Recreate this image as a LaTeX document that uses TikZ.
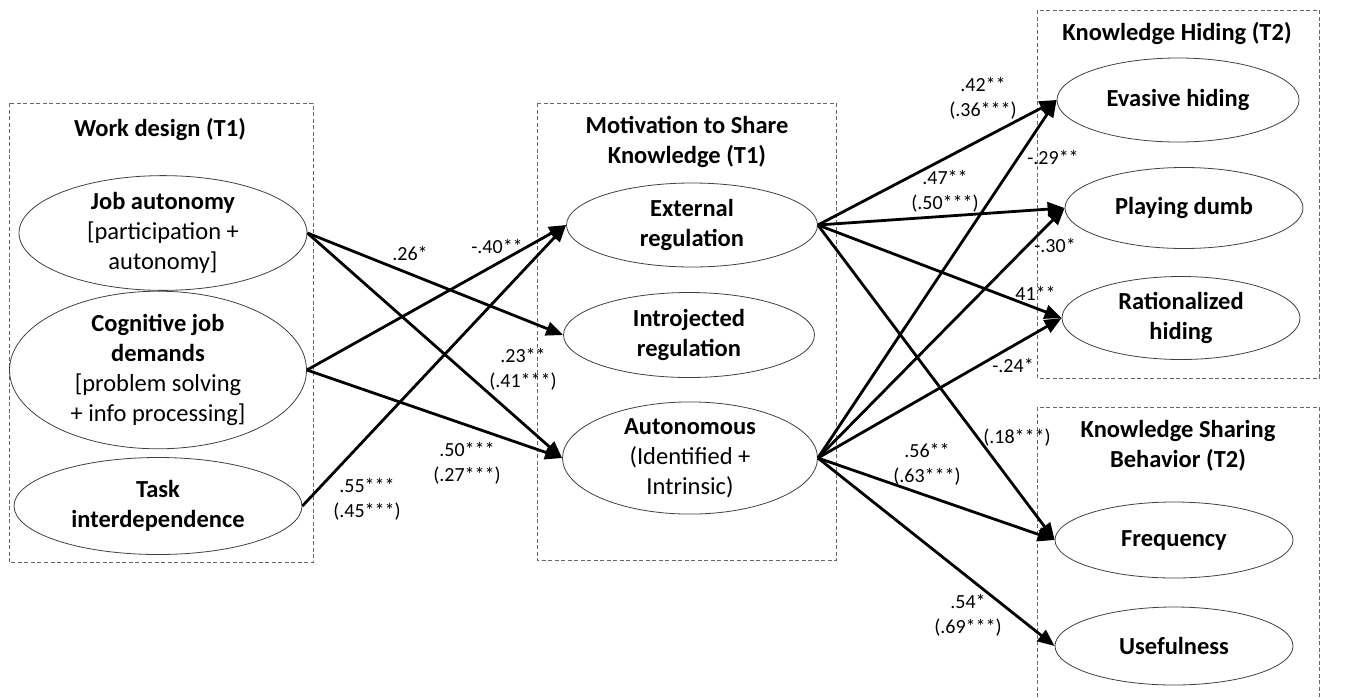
\documentclass[tikz,border=0pt]{standalone}
\usepackage{fontspec}
\setmainfont{Carlito}
\usetikzlibrary{shapes.geometric,arrows.meta}
\begin{document}
\begin{tikzpicture}[x=1pt,y=-1pt,
  grp/.style={draw=black!60, line width=0.9pt, dash pattern=on 4pt off 2.5pt},
  latent/.style={ellipse, draw=black!75, line width=0.8pt, inner sep=0pt, align=center, font=\fontsize{24.5}{30}\selectfont},
  ttl/.style={align=center, font=\fontsize{24.5}{30}\selectfont\bfseries, inner sep=0pt},
  coef/.style={align=center, font=\fontsize{20}{25}\selectfont, inner sep=0pt},
  pth/.style={line width=2.8pt, -{Triangle[length=17pt,width=14pt]}},
]
\useasboundingbox (0,0) rectangle (1348,697);

% group boxes
\draw[grp] (9,103) rectangle (313,562);
\draw[grp] (537,103) rectangle (836,560);
\draw[grp] (1037,10) rectangle (1319,378);
\draw[grp] (1037,407) rectangle (1319,710);

% titles
\node[ttl] (t1) at (160,129) {Work design (T1)};
\node[ttl] (t2) at (687,142) {Motivation to Share\\Knowledge (T1)};
\node[ttl] (t3) at (1177,33) {Knowledge Hiding (T2)};
\node[ttl] (t4) at (1178,446) {Knowledge Sharing\\Behavior (T2)};

% work design
\node[latent, minimum width=288pt, minimum height=96pt] (ja) at (163,233)
  {\textbf{Job autonomy}\\{[}participation +\\autonomy{]}};
\node[latent, minimum width=297pt, minimum height=146pt] (cj) at (158,370)
  {\textbf{Cognitive job}\\\textbf{demands}\\{[}problem solving\\+ info processing{]}};
\node[latent, minimum width=288pt, minimum height=97pt] (ti) at (158,506)
  {\textbf{Task}\\\textbf{interdependence}};

% motivation
\node[latent, minimum width=251pt, minimum height=84pt] (ext) at (692,225)
  {\textbf{External}\\\textbf{regulation}};
\node[latent, minimum width=251pt, minimum height=85pt] (intr) at (689,335)
  {\textbf{Introjected}\\\textbf{regulation}};
\node[latent, minimum width=255pt, minimum height=101pt] (aut) at (690,458)
  {\textbf{Autonomous}\\(Identified +\\Intrinsic)};

% knowledge hiding
\node[latent, minimum width=242pt, minimum height=84pt] (eva) at (1178,100)
  {\textbf{Evasive hiding}};
\node[latent, minimum width=238pt, minimum height=81pt] (pla) at (1184,208)
  {\textbf{Playing dumb}};
\node[latent, minimum width=238pt, minimum height=83pt] (rat) at (1181,318)
  {\textbf{Rationalized}\\\textbf{hiding}};

% knowledge sharing
\node[latent, minimum width=238pt, minimum height=76pt] (fre) at (1174,540)
  {\textbf{Frequency}};
\node[latent, minimum width=238pt, minimum height=78pt] (use) at (1174,646)
  {\textbf{Usefulness}};

% paths
\draw[pth] (ja.east) -- (intr.west);
\draw[pth] (ja.east) -- (aut.west);
\draw[pth] (cj.east) -- (ext.west);
\draw[pth] (cj.east) -- (aut.west);
\draw[pth] (ti.east) -- (ext.west);

\draw[pth] (ext.east) -- (eva.west);
\draw[pth] (ext.east) -- (pla.west);
\draw[pth] (ext.east) -- (rat.west);
\draw[pth] (ext.east) -- (fre.west);
\draw[pth] (aut.east) -- (eva.west);
\draw[pth] (aut.east) -- (pla.west);
\draw[pth] (aut.east) -- (rat.west);
\draw[pth] (aut.east) -- (fre.west);
\draw[pth] (aut.east) -- (use.west);

% coefficients
\node[coef] (c1) at (410,253) {.26*};
\node[coef] (c2) at (497,246) {-.40**};
\node[coef] (c3) at (523,369) {.23**\\(.41***)};
\node[coef] (c4) at (467,463) {.50***\\(.27***)};
\node[coef] (c5) at (367,499) {.55***\\(.45***)};
\node[coef] (c6) at (983,98) {.42**\\(.36***)};
\node[coef] (c7) at (1053,157) {-.29**};
\node[coef] (c8) at (945,191) {.47**\\(.50***)};
\node[coef] (c9) at (1055,245) {-.30*};
\node[coef] (c10) at (1033,293) {.41**};
\node[coef] (c11) at (1013,365) {-.24*};
\node[coef] (c12) at (1017,438) {(.18***)};
\node[coef] (c13) at (927,464) {.56**\\(.63***)};
\node[coef] (c14) at (968,615) {.54*\\(.69***)};
\end{tikzpicture}
\end{document}
